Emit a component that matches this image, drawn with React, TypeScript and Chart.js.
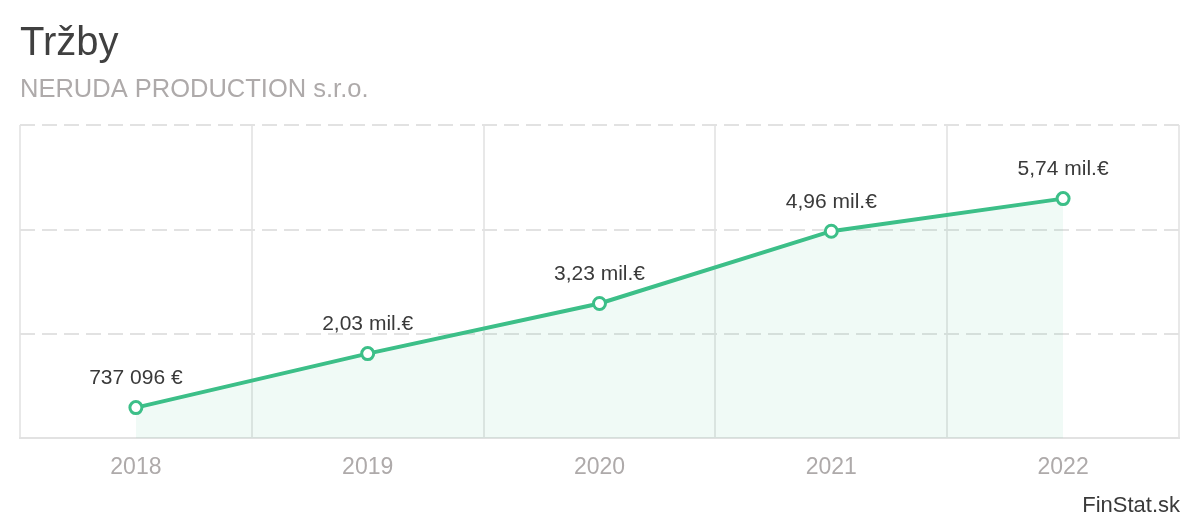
import React, { useEffect, useRef } from "react";
import { Chart, registerables } from "chart.js";

Chart.register(...registerables);

const TITLE = "Tržby";
const SUBTITLE = "NERUDA PRODUCTION s.r.o.";
const SOURCE = "FinStat.sk";
const years = ["2018", "2019", "2020", "2021", "2022"];
const revenue = [737096, 2030000, 3230000, 4960000, 5740000];
const yMax = 7500000;
const yStep = 2500000;

const FONT = "'Liberation Sans', Arial, sans-serif";
const GREEN = "#3cbf88";

function formatValue(v: number): string {
  if (v >= 1000000) {
    return (v / 1000000).toFixed(2).replace(".", ",") + " mil.€";
  }
  const s = Math.round(v).toString().replace(/\B(?=(\d{3})+(?!\d))/g, " ");
  return s + " €";
}

const labelPlugin = {
  id: "valueLabels",
  afterDatasetsDraw(chart: any) {
    const ctx = chart.ctx;
    const meta = chart.getDatasetMeta(0);
    const data = chart.data.datasets[0].data as number[];
    ctx.save();
    ctx.font = `21px ${FONT}`;
    ctx.fillStyle = "#3a3a3a";
    ctx.textAlign = "center";
    ctx.textBaseline = "middle";
    meta.data.forEach((pt: any, i: number) => {
      ctx.fillText(formatValue(data[i]), pt.x, pt.y - 29);
    });
    ctx.restore();
  },
  afterDraw(chart: any) {
    const ctx = chart.ctx;
    ctx.save();
    ctx.font = `22px ${FONT}`;
    ctx.fillStyle = "#3a3a3a";
    ctx.textAlign = "right";
    ctx.textBaseline = "alphabetic";
    ctx.fillText(SOURCE, chart.chartArea.right + 1, chart.height - 8.5);
    ctx.restore();
  },
};

export default function App() {
  const ref = useRef<HTMLCanvasElement | null>(null);
  useEffect(() => {
    if (!ref.current) return;
    const chart = new Chart(ref.current, {
      type: "line",
      data: {
        labels: years,
        datasets: [
          {
            data: revenue,
            borderColor: GREEN,
            borderWidth: 4,
            backgroundColor: "rgba(60,191,136,0.075)",
            fill: "origin",
            tension: 0,
            pointRadius: 6,
            pointHoverRadius: 6,
            pointBorderWidth: 3,
            pointBackgroundColor: "#ffffff",
            pointBorderColor: GREEN,
          },
        ],
      },
      options: {
        animation: false,
        responsive: true,
        maintainAspectRatio: false,
        layout: { padding: { left: 20, right: 21, top: 0, bottom: 24 } },
        plugins: {
          legend: { display: false },
          tooltip: { enabled: false },
          title: {
            display: true,
            text: TITLE,
            align: "start",
            color: "#404040",
            font: { family: FONT, size: 40, weight: "normal" },
            padding: { top: 20, bottom: 0 },
          },
          subtitle: {
            display: true,
            text: SUBTITLE,
            align: "start",
            color: "#aeaaaa",
            font: { family: FONT, size: 25.5, weight: "normal" },
            padding: { top: 7, bottom: 19.5 },
          },
        },
        scales: {
          x: {
            offset: true,
            grid: {
              offset: true,
              color: "#e8e8e8",
              lineWidth: 2,
              drawTicks: false,
            },
            border: { display: true, color: "#e2e2e2", width: 2 },
            ticks: {
              color: "#aeaaaa",
              padding: 15,
              font: { family: FONT, size: 23 },
            },
          },
          y: {
            min: 0,
            max: yMax,
            ticks: { display: false, stepSize: yStep },
            grid: { color: "#e2e2e2", lineWidth: 2, drawTicks: false },
            border: { display: false, dash: [15, 7] },
          },
        },
      },
      plugins: [labelPlugin],
    });
    return () => chart.destroy();
  }, []);
  return (
    <div style={{ position: "fixed", left: 0, top: 0, width: 1200, height: 520, background: "#fff" }}>
      <canvas ref={ref} />
    </div>
  );
}
